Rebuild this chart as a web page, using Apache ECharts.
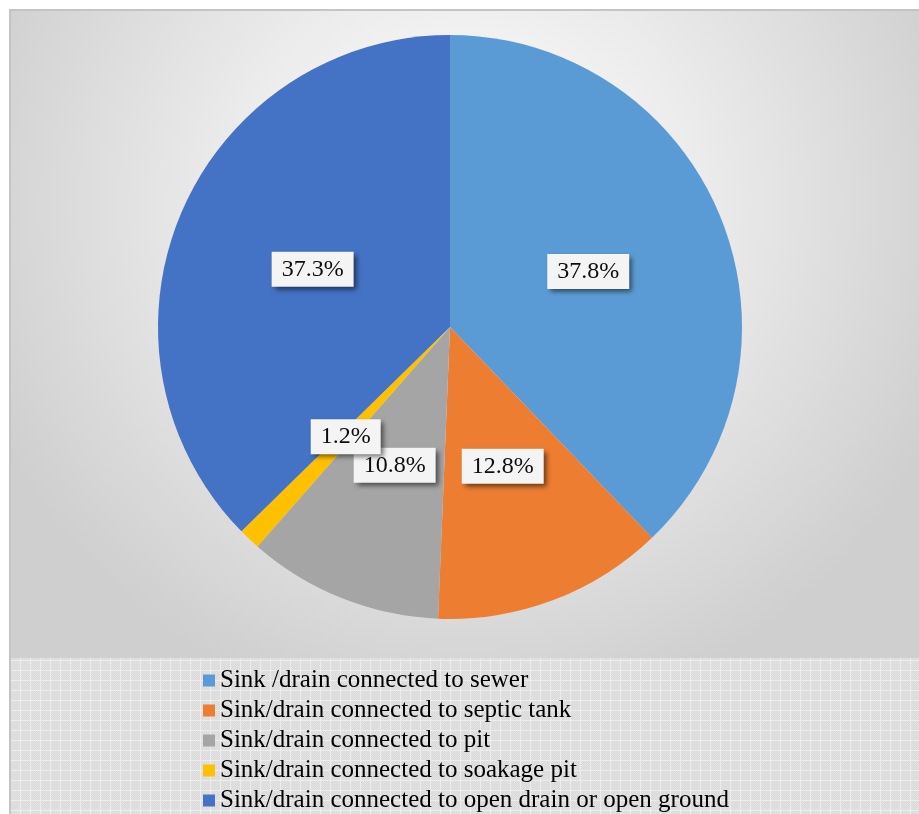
<!DOCTYPE html>
<html>
<head>
<meta charset="utf-8">
<script src="https://cdn.jsdelivr.net/npm/echarts@6/dist/echarts.min.js"></script>
<style>
  html, body { margin: 0; padding: 0; background: #ffffff; }
  #chart { width: 919px; height: 814px; }
</style>
</head>
<body>
<div id="chart"></div>
<script>
// Sink / drain disposal categories and their shares (%)
const categories = [
  'Sink /drain connected to sewer',
  'Sink/drain connected to septic tank',
  'Sink/drain connected to pit',
  'Sink/drain connected to soakage pit',
  'Sink/drain connected to open drain or open ground'
];
const shares = [37.8, 12.8, 10.8, 1.2, 37.3];
const colors = ['#5B9BD5', '#ED7D31', '#A5A5A5', '#FFC000', '#4472C4'];

// Thin slices get their label centred on the slice's bounding box
const thinSlice = 3;

// Small tile used to fill the legend band with a fine grid texture
function gridTile() {
  const c = document.createElement('canvas');
  c.width = 10; c.height = 10;
  const g = c.getContext('2d');
  g.fillStyle = '#dadada';
  g.fillRect(0, 0, 10, 10);
  g.fillStyle = '#e2e2e2';
  for (let y = 0; y < 10; y++) {
    for (let x = (y % 2); x < 10; x += 2) g.fillRect(x, y, 1, 1);
  }
  g.fillStyle = '#ededed';
  g.fillRect(0, 0, 10, 1);
  g.fillRect(0, 0, 1, 10);
  return c;
}

const chart = echarts.init(document.getElementById('chart'), null, { renderer: 'canvas' });

const serif = '"Liberation Serif", "Times New Roman", serif';

const labelBox = {
  show: true,
  position: 'inside',
  formatter: '{c}%',
  fontFamily: serif,
  fontSize: 24,
  lineHeight: 24,
  color: '#0d0d0d',
  backgroundColor: '#f4f4f4',
  padding: [6, 10, 5, 10],
  shadowColor: 'rgba(0,0,0,0.55)',
  shadowBlur: 5,
  shadowOffsetX: 3,
  shadowOffsetY: 3
};

chart.setOption({
  backgroundColor: '#ffffff',
  animation: false,
  color: colors,
  graphic: [
    {
      type: 'rect', z: -10, silent: true,
      shape: { x: 10, y: 10, width: 909, height: 648 },
      style: {
        fill: {
          type: 'radial', x: 0.5, y: 0.3, r: 0.8,
          colorStops: [
            { offset: 0, color: '#ffffff' },
            { offset: 0.45, color: '#ececec' },
            { offset: 1, color: '#cfcfcf' }
          ]
        }
      }
    },
    {
      type: 'rect', z: -10, silent: true,
      shape: { x: 10, y: 658, width: 909, height: 156 },
      style: { fill: { image: gridTile(), repeat: 'repeat' } }
    },
    {
      type: 'polyline', z: -9, silent: true,
      shape: { points: [[10, 814], [10, 10], [919, 10]] },
      style: { stroke: '#c4c4c4', lineWidth: 2, fill: null }
    }
  ],
  legend: {
    orient: 'vertical',
    left: 203,
    top: 668,
    height: 220,
    padding: 0,
    icon: 'rect',
    itemWidth: 12,
    itemHeight: 12,
    itemGap: 5,
    data: categories,
    textStyle: {
      fontFamily: serif,
      fontSize: 25,
      lineHeight: 22,
      color: '#000000'
    }
  },
  series: [
    {
      type: 'pie',
      center: [450, 327],
      radius: 292,
      startAngle: 90,
      clockwise: true,
      avoidLabelOverlap: false,
      itemStyle: { borderWidth: 0 },
      emphasis: { disabled: true },
      label: labelBox,
      labelLine: { show: false },
      labelLayout: function (p) {
        if (shares[p.dataIndex] < thinSlice) {
          return {
            x: p.rect.x + p.rect.width / 2,
            y: p.rect.y + p.rect.height / 2,
            align: 'center',
            verticalAlign: 'middle'
          };
        }
      },
      data: categories.map((name, i) => ({
        name: name,
        value: shares[i],
        label: shares[i] < thinSlice ? { position: 'outside' } : undefined,
        labelLine: { show: false }
      }))
    }
  ]
});
</script>
</body>
</html>
